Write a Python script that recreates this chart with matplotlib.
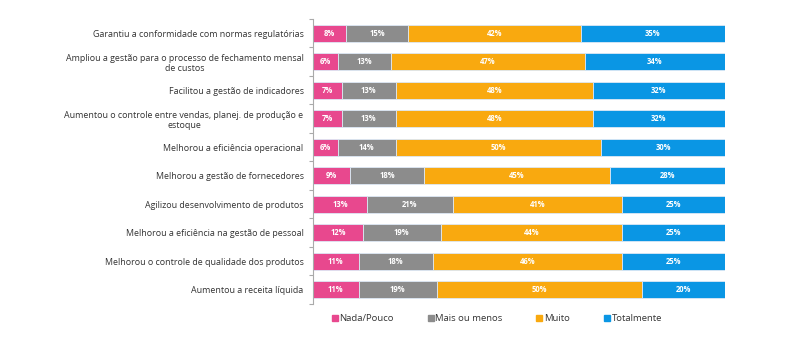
import matplotlib.pyplot as plt
import numpy as np
from matplotlib.lines import Line2D

plt.rcParams['font.family'] = ['Open Sans', 'DejaVu Sans']

categories = [
    'Garantiu a conformidade com normas regulatórias',
    'Ampliou a gestão para o processo de fechamento mensal\nde custos',
    'Facilitou a gestão de indicadores',
    'Aumentou o controle entre vendas, planej. de produção e\nestoque',
    'Melhorou a eficiência operacional',
    'Melhorou a gestão de fornecedores',
    'Agilizou desenvolvimento de produtos',
    'Melhorou a eficiência na gestão de pessoal',
    'Melhorou o controle de qualidade dos produtos',
    'Aumentou a receita líquida',
]
series_names = ['Nada/Pouco', 'Mais ou menos', 'Muito', 'Totalmente']
nada = [8, 6, 7, 7, 6, 9, 13, 12, 11, 11]
mais_menos = [15, 13, 13, 13, 14, 18, 21, 19, 18, 19]
muito = [42, 47, 48, 48, 50, 45, 41, 44, 46, 50]
totalmente = [35, 34, 32, 32, 30, 28, 25, 25, 25, 20]

colors = ['#E8488E', '#8C8C8C', '#F9A90F', '#0A96E4']

fig = plt.figure(figsize=(7.93, 3.43), dpi=100)
ax = fig.add_axes([0.395, 0.114, 0.519, 0.831])

y = np.arange(len(categories))
left = np.zeros(len(categories))
for name, vals, col in zip(series_names, [nada, mais_menos, muito, totalmente], colors):
    vals = np.array(vals, dtype=float)
    ax.barh(y, vals, left=left, height=0.6, color=col, edgecolor='#dde8f5', linewidth=0.6)
    for yi, l, v in zip(y, left, vals):
        ax.text(l + v / 2, yi, f'{int(v)}%', ha='center', va='center',
                color='white', fontsize=5.5, fontweight='bold')
    left += vals

ax.set_ylim(len(categories) - 0.5, -0.5)
ax.set_xlim(0, left.max())
ax.set_yticks(y)
ax.set_yticklabels(categories, fontsize=6.4, color='#333333')
ax.tick_params(axis='y', length=0, pad=7)
ax.set_yticks(np.arange(-0.5, len(categories)), minor=True)
ax.tick_params(axis='y', which='minor', length=3, color='#aaaaaa', width=0.8)
ax.set_xticks([])
for s in ['top', 'right', 'bottom']:
    ax.spines[s].set_visible(False)
ax.spines['left'].set_color('#aaaaaa')
ax.spines['left'].set_linewidth(0.8)

# wrapped labels stay right-aligned to the axis, lines centred on each other
for lab in ax.get_yticklabels():
    lab.set_horizontalalignment('right')
    lab.set_multialignment('center')

handles = [Line2D([], [], marker='s', linestyle='none', markersize=4, color=c) for c in colors]
fig.legend(handles, series_names, loc='center', bbox_to_anchor=(0.626, 0.071), ncol=4,
           frameon=False, fontsize=6.8, handletextpad=0.1, columnspacing=3.5,
           handlelength=0.8, labelcolor='#333333')

fig.savefig('out.png', dpi=100)
